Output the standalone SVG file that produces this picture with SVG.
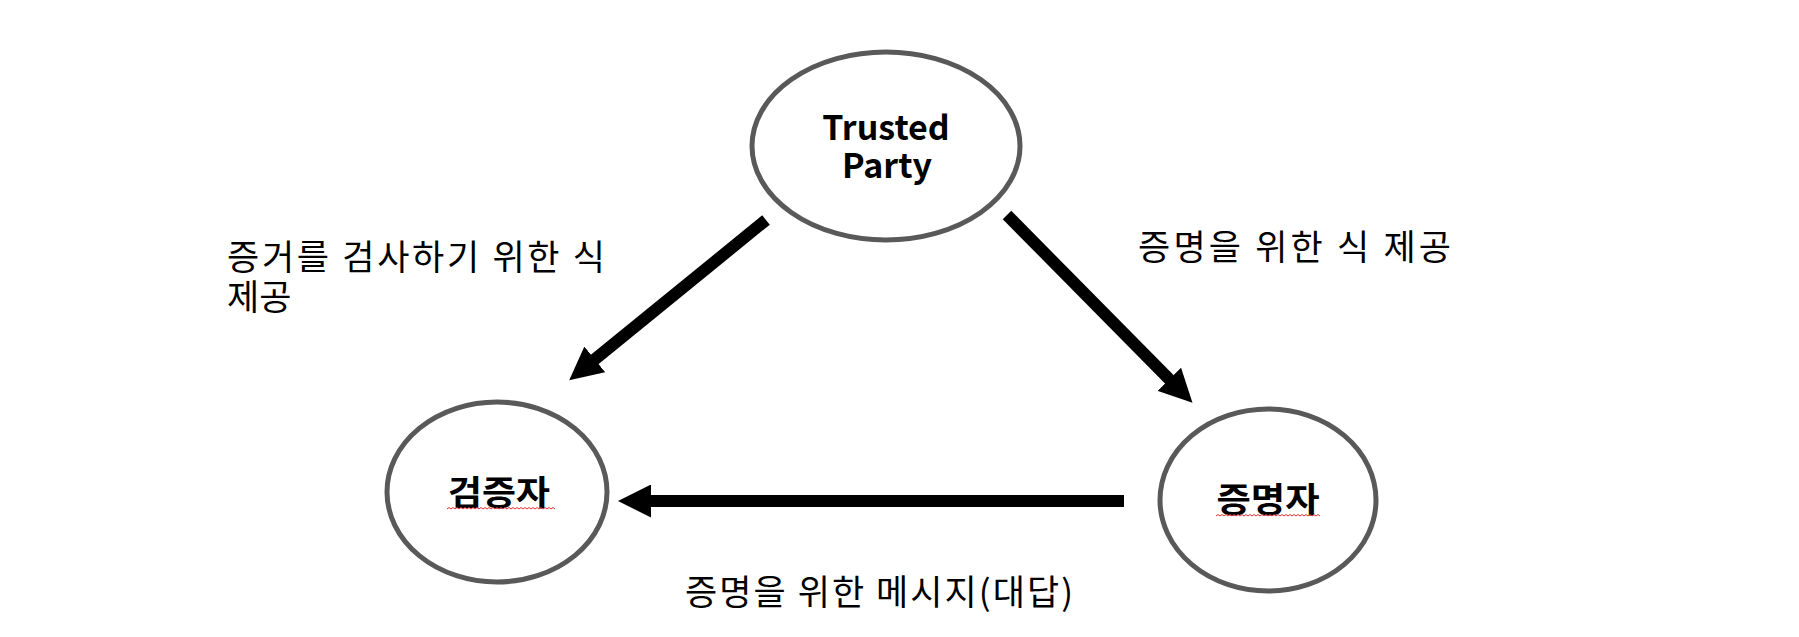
<svg xmlns="http://www.w3.org/2000/svg" width="1799" height="637" viewBox="0 0 1799 637">
<style>
.node{fill:#ffffff;stroke:#595959;stroke-width:5}
.nl{font-family:"Noto Sans CJK KR","Noto Sans",sans-serif;font-weight:bold;font-size:34px;fill:#000;text-anchor:middle}
.lbl{font-family:"Noto Sans CJK KR","Noto Sans",sans-serif;font-size:35px;fill:#000}
.conn{stroke:#000;stroke-width:12;fill:none;marker-end:url(#ah)}
.sq{fill:none;stroke:#e03030;stroke-width:1}
</style>
<defs>
<marker id="ah" markerUnits="userSpaceOnUse" viewBox="0 0 33 33" refX="1" refY="16.5" markerWidth="33" markerHeight="33" orient="auto">
<path d="M0,0 L33,16.5 L0,33 Z" fill="#000"/>
</marker>
</defs>
<g id="connectors">
<line class="conn" x1="766" y1="220" x2="594" y2="360"/>
<line class="conn" x1="1007" y1="215" x2="1170" y2="380"/>
<line class="conn" x1="1124" y1="501" x2="650" y2="501"/>
</g>
<g id="trusted-party">
<ellipse class="node" cx="886" cy="146" rx="134" ry="94"/>
<text class="nl" x="886" y="140" font-size="35">Trusted</text>
<text class="nl" x="887" y="178" font-size="35">Party</text>
</g>
<g id="verifier">
<ellipse class="node" cx="497" cy="492" rx="110" ry="90"/>
<text class="nl" x="499" y="505" textLength="102" lengthAdjust="spacingAndGlyphs">검증자</text>
<path class="sq" d="M447,509 l2,-1.5 l2,1.5 l2,-1.5 l2,1.5 l2,-1.5 l2,1.5 l2,-1.5 l2,1.5 l2,-1.5 l2,1.5 l2,-1.5 l2,1.5 l2,-1.5 l2,1.5 l2,-1.5 l2,1.5 l2,-1.5 l2,1.5 l2,-1.5 l2,1.5 l2,-1.5 l2,1.5 l2,-1.5 l2,1.5 l2,-1.5 l2,1.5 l2,-1.5 l2,1.5 l2,-1.5 l2,1.5 l2,-1.5 l2,1.5 l2,-1.5 l2,1.5 l2,-1.5 l2,1.5 l2,-1.5 l2,1.5 l2,-1.5 l2,1.5 l2,-1.5 l2,1.5 l2,-1.5 l2,1.5 l2,-1.5 l2,1.5 l2,-1.5 l2,1.5 l2,-1.5 l2,1.5 l2,-1.5 l2,1.5 l2,-1.5 l2,1.5"/>
</g>
<g id="prover">
<ellipse class="node" cx="1268" cy="500" rx="108" ry="91"/>
<text class="nl" x="1268" y="512" textLength="103" lengthAdjust="spacingAndGlyphs">증명자</text>
<path class="sq" d="M1216,516 l2,-1.5 l2,1.5 l2,-1.5 l2,1.5 l2,-1.5 l2,1.5 l2,-1.5 l2,1.5 l2,-1.5 l2,1.5 l2,-1.5 l2,1.5 l2,-1.5 l2,1.5 l2,-1.5 l2,1.5 l2,-1.5 l2,1.5 l2,-1.5 l2,1.5 l2,-1.5 l2,1.5 l2,-1.5 l2,1.5 l2,-1.5 l2,1.5 l2,-1.5 l2,1.5 l2,-1.5 l2,1.5 l2,-1.5 l2,1.5 l2,-1.5 l2,1.5 l2,-1.5 l2,1.5 l2,-1.5 l2,1.5 l2,-1.5 l2,1.5 l2,-1.5 l2,1.5 l2,-1.5 l2,1.5 l2,-1.5 l2,1.5 l2,-1.5 l2,1.5 l2,-1.5 l2,1.5 l2,-1.5 l2,1.5"/>
</g>
<g id="labels">
<text class="lbl" x="227" y="270" font-size="34" textLength="378" lengthAdjust="spacing">증거를 검사하기 위한 식</text>
<text class="lbl" x="227" y="310" font-size="34">제공</text>
<text class="lbl" x="1138" y="260" font-size="37" textLength="313" lengthAdjust="spacing">증명을 위한 식 제공</text>
<text class="lbl" x="685" y="605" font-size="35" textLength="388" lengthAdjust="spacing">증명을 위한 메시지(대답)</text>
</g>
</svg>
